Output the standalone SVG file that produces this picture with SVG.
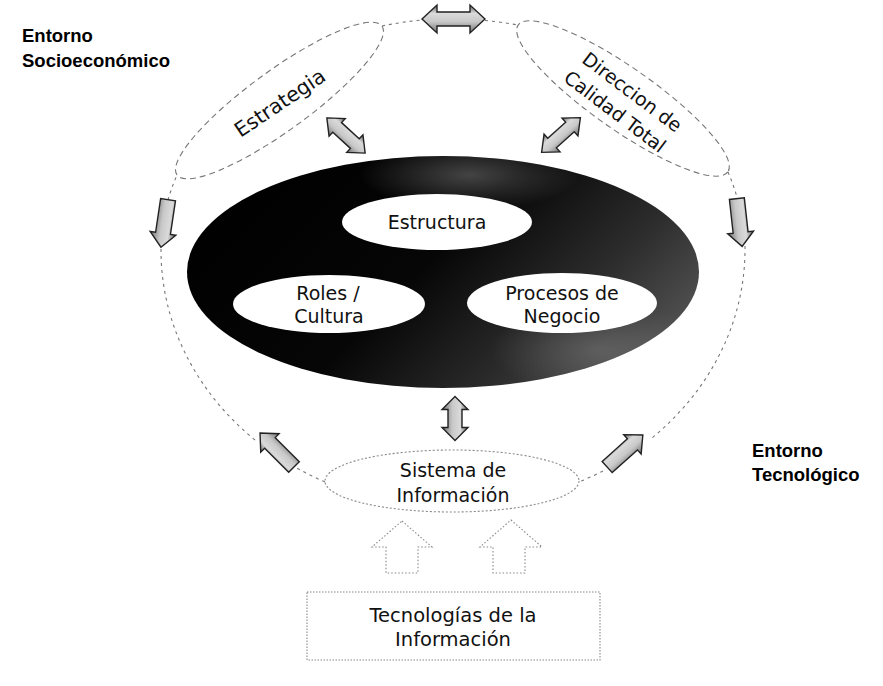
<svg xmlns="http://www.w3.org/2000/svg" width="883" height="686" viewBox="0 0 883 686">
<style>
.loop{fill:none;stroke:#777;stroke-width:1.1;stroke-dasharray:3 4}
.oval{fill:#fff;stroke:#777;stroke-width:1.1;stroke-dasharray:6 4}
.soval{fill:#fff;stroke:#888;stroke-width:1.1;stroke-dasharray:2 2}
.arr{fill:url(#ag);stroke:#222;stroke-width:1.4;stroke-linejoin:miter}
.hol{fill:#fff;stroke:#888;stroke-width:1.1;stroke-dasharray:1.5 2}
.t{font-family:"DejaVu Sans",sans-serif;font-size:19px;fill:#111;text-anchor:middle}
.lbl{font-family:"Liberation Sans",Arial,sans-serif;font-size:18.5px;font-weight:bold;fill:#000}
</style>
<defs>
<linearGradient id="ag" x1="0" y1="0" x2="0" y2="1">
<stop offset="0" stop-color="#606060"/>
<stop offset="0.3" stop-color="#dadada"/>
<stop offset="0.6" stop-color="#c8c8c8"/>
<stop offset="1" stop-color="#707070"/>
</linearGradient>
<linearGradient id="dg" x1="0" y1="0.3" x2="1" y2="0.75">
<stop offset="0" stop-color="#000"/>
<stop offset="0.45" stop-color="#060606"/>
<stop offset="0.75" stop-color="#2c2c2c"/>
<stop offset="1" stop-color="#565656"/>
</linearGradient>
<radialGradient id="tg" cx="0.5" cy="0.5" r="0.5">
<stop offset="0" stop-color="#777" stop-opacity="0.55"/>
<stop offset="1" stop-color="#777" stop-opacity="0"/>
</radialGradient>
<clipPath id="dc"><ellipse cx="443" cy="272" rx="256" ry="116"/></clipPath>
<polygon id="dbl" points="-26,0 -12,-12 -12,-6.5 12,-6.5 12,-12 26,0 12,12 12,6.5 -12,6.5 -12,12"/>
<polygon id="sgl" points="-24,-7.5 10,-7.5 10,-13 24,0 10,13 10,7.5 -24,7.5"/>
</defs>
<rect width="883" height="686" fill="#fff"/>

<g id="connectors">
<path class="loop" d="M382,26 A292,231 0 0 1 422,20"/>
<path class="loop" d="M485,20.5 A292,231 0 0 1 518,25"/>
<path class="loop" d="M728,172 A292,231 0 0 1 738,201"/>
<path class="loop" d="M745,246 A292,231 0 0 1 745,250 A292,258 0 0 1 652,438"/>
<path class="loop" d="M603,471 A292,258 0 0 1 579,482"/>
<path class="loop" d="M325,482 A292,258 0 0 1 295,467"/>
<path class="loop" d="M255,440 A292,258 0 0 1 161,250 A292,231 0 0 1 161,246"/>
<path class="loop" d="M168,200 A292,231 0 0 1 177,175"/>

<polygon class="arr" transform="translate(453.5,19)" points="-31.5,0 -16.5,-14 -16.5,-7 16.5,-7 16.5,-14 31.5,0 16.5,14 16.5,7 -16.5,7 -16.5,14"/>
<use href="#dbl" class="arr" transform="translate(346,135.5) rotate(42.6)"/>
<use href="#dbl" class="arr" transform="translate(561,135) rotate(-41.8)"/>
<polygon class="arr" transform="translate(455,418.5) rotate(90)" points="-22,0 -9,-13 -9,-7 9,-7 9,-13 22,0 9,13 9,7 -9,7 -9,13"/>
<use href="#sgl" class="arr" transform="translate(164.5,223.5) rotate(98.5)"/>
<use href="#sgl" class="arr" transform="translate(739.5,222.5) rotate(83.7)"/>
<use href="#sgl" class="arr" transform="translate(277,450) rotate(-135)"/>
<use href="#sgl" class="arr" transform="translate(625,451) rotate(-42)"/>

<path class="hol" d="M402,521 L432,547 L418,547 L418,573 L386,573 L386,547 L372,547 Z"/>
<path class="hol" d="M511,520 L542,547 L525,547 L525,573 L493,573 L493,547 L480,547 Z"/>
</g>

<g id="estrategia">
<ellipse class="oval" cx="279.5" cy="100.5" rx="126.7" ry="30" transform="rotate(-36 279.5 100.5)"/>
<text class="t" transform="translate(280,103) rotate(-34)" x="0" y="7" style="font-size:20.5px">Estrategia</text>
</g>

<g id="direccion">
<ellipse class="oval" cx="623" cy="98.5" rx="128" ry="31" transform="rotate(35 623 98.5)"/>
<g transform="translate(623,101) rotate(37)">
<text class="t" x="2" y="-6">Direccion de</text>
<text class="t" x="0" y="20">Calidad Total</text>
</g>
</g>

<g id="organizacion">
<ellipse cx="443" cy="272" rx="256" ry="116" fill="url(#dg)"/>
<g clip-path="url(#dc)">
<ellipse cx="470" cy="175" rx="110" ry="35" fill="url(#tg)"/>
<ellipse cx="600" cy="350" rx="110" ry="45" fill="url(#tg)"/>
</g>
<g id="estructura">
<ellipse cx="437" cy="222" rx="95" ry="28" fill="#fff"/>
<text class="t" x="437" y="229">Estructura</text>
</g>
<g id="roles">
<ellipse cx="329" cy="304" rx="96" ry="29" fill="#fff"/>
<text class="t" x="328" y="300">Roles /</text>
<text class="t" x="329" y="323">Cultura</text>
</g>
<g id="procesos">
<ellipse cx="562" cy="303" rx="95" ry="30" fill="#fff"/>
<text class="t" x="562" y="300">Procesos de</text>
<text class="t" x="562" y="323">Negocio</text>
</g>
</g>

<g id="sistema">
<ellipse class="soval" cx="452" cy="481" rx="127" ry="31"/>
<text class="t" x="453" y="477">Sistema de</text>
<text class="t" x="453" y="502">Información</text>
</g>

<g id="tecnologias">
<rect x="307" y="592" width="293" height="68" fill="#fff" stroke="#888" stroke-width="1.1" stroke-dasharray="1.5 1.5"/>
<text class="t" x="453" y="622" style="font-size:19.5px">Tecnologías de la</text>
<text class="t" x="453" y="646" style="font-size:19.5px">Información</text>
</g>

<g id="entorno-socio">
<text class="lbl" x="22" y="42">Entorno</text>
<text class="lbl" x="22" y="67">Socioeconómico</text>
</g>
<g id="entorno-tec">
<text class="lbl" x="752" y="457">Entorno</text>
<text class="lbl" x="752" y="481">Tecnológico</text>
</g>
</svg>
